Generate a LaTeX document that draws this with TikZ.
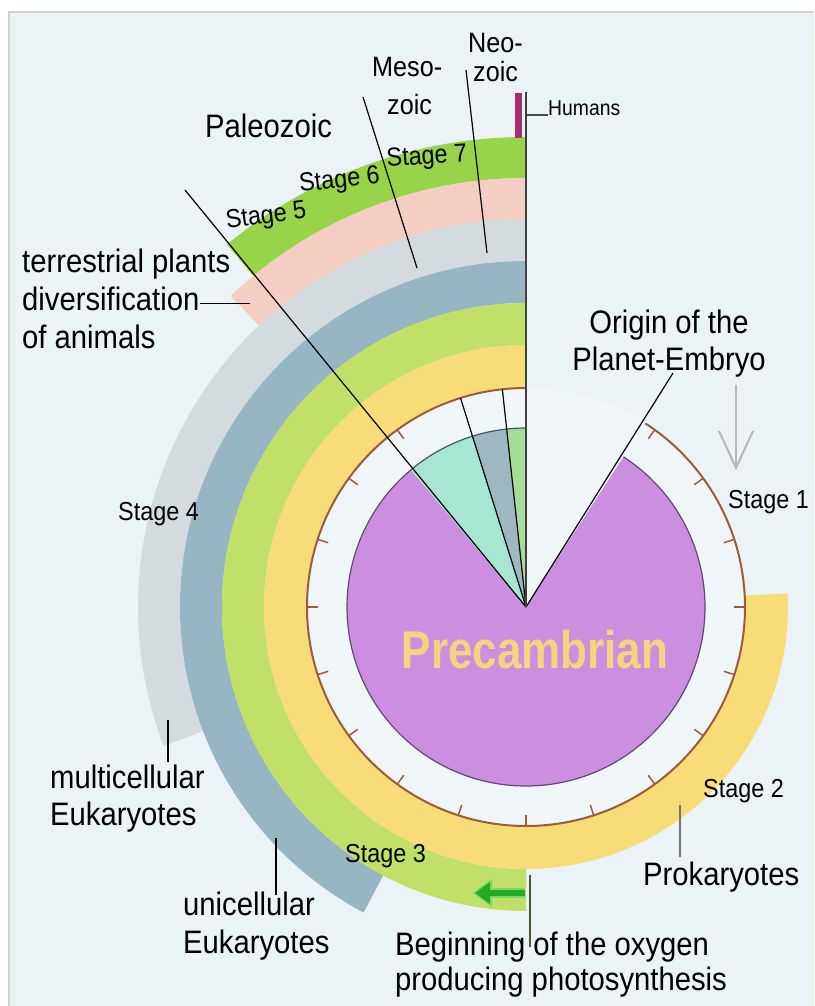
\documentclass[tikz,border=0pt]{standalone}
\usepackage{fontspec}
\setmainfont{Liberation Sans}[FakeStretch=0.9]
\newfontfamily\precfont{Liberation Sans}[FakeStretch=0.83]
\usetikzlibrary{arrows.meta}
\definecolor{bg}{HTML}{ECF3F7}
\definecolor{whitering}{HTML}{F0F6F8}
\definecolor{framegray}{HTML}{D2D2D2}
\definecolor{purp}{HTML}{CC8FE0}
\definecolor{purpedge}{HTML}{5E4A70}
\definecolor{mint}{HTML}{A6E6D2}
\definecolor{slatew}{HTML}{9EB8C2}
\definecolor{greenw}{HTML}{A6DC9A}
\definecolor{wedgeedge}{HTML}{3E5A5E}
\definecolor{yel}{HTML}{F8DC78}
\definecolor{lgreen}{HTML}{C0E068}
\definecolor{bgray}{HTML}{96B6C3}
\definecolor{lgray}{HTML}{D3DBDE}
\definecolor{pinkr}{HTML}{F4CDC3}
\definecolor{bgreen}{HTML}{98D449}
\definecolor{brownr}{HTML}{9C5B3B}
\definecolor{hum}{HTML}{A3306E}
\definecolor{prec}{HTML}{F6D37E}
\definecolor{arrowgray}{HTML}{B4B8BC}
\definecolor{oxyline}{HTML}{4A5A2A}
\definecolor{arrowgreen}{HTML}{22AA22}
\definecolor{arrowglow}{HTML}{7CD86C}
\newcommand\ringseg[5]{\fill[#1] (#2:#5) arc[start angle=#2, end angle=#3, radius=#5] -- (#3:#4) arc[start angle=#3, end angle=#2, radius=#4] -- cycle;}
\tikzset{
  lbl/.style={anchor=base west, inner sep=0pt, font=\fontsize{32.5}{38}\selectfont},
  stg/.style={anchor=base west, inner sep=0pt, font=\fontsize{26}{30}\selectfont},
  era/.style={anchor=base west, inner sep=0pt, font=\fontsize{28}{30}\selectfont},
  leader/.style={line width=1.2pt, black},
}
\begin{document}
\begin{tikzpicture}[x=1pt,y=1pt]
\useasboundingbox (0,0) rectangle (814,-1006);
\fill[white] (0,0) rectangle (814,-1006);
\fill[bg] (9,-12) rectangle (814,-1006);
\draw[framegray, line width=2pt] (9,-1006) -- (9,-12) -- (814,-12);
\coordinate (C) at (526,-607);
\begin{scope}[shift={(526,-607)}]
  % outer rings
  \ringseg{bgreen}{90}{129.5}{429}{470}
  \ringseg{pinkr}{90}{133.5}{388}{429}
  \ringseg{lgray}{90}{201}{346}{388}
  \ringseg{bgray}{90}{242}{304}{346}
  \ringseg{lgreen}{90}{270}{262}{304}
  \ringseg{yel}{90}{363}{219}{262}
  % inner light ring
  \fill[whitering] (0,0) circle[radius=219];
  % purple pie
  \fill[purp] (0,0) -- (130:179) arc[start angle=130, end angle=417, radius=179] -- cycle;
  \draw[purpedge, line width=1.2pt] (130:179) arc[start angle=130, end angle=417, radius=179];
  % small wedges
  \fill[mint] (0,0) -- (107.4:179) arc[start angle=107.4, end angle=130, radius=179] -- cycle;
  \fill[slatew] (0,0) -- (96.2:179) arc[start angle=96.2, end angle=107.4, radius=179] -- cycle;
  \fill[greenw] (0,0) -- (90:179) arc[start angle=90, end angle=96.2, radius=179] -- cycle;
  \draw[wedgeedge, line width=1.2pt] (90:179) arc[start angle=90, end angle=130, radius=179];
  % brown time circle with ticks
  \draw[brownr, line width=2pt] (90:219) arc[start angle=90, end angle=417, radius=219];
  \foreach \a in {0,18,36,54,126,144,162,180,198,216,234,252,270,288,306,324,342}
    \draw[brownr, line width=1.5pt] (\a:219) -- (\a:208);
  \coordinate (w1) at (96.2:219);
  \coordinate (w2) at (107.4:219);
\end{scope}
% radial lines
\coordinate (embryo) at (673,-373);
\coordinate (terr) at (185,-190);
\coordinate (top) at (526,-92);
\draw[leader] (C) -- (w1);
\draw[leader] (C) -- (w2);
\draw[leader] (C) -- (embryo);
\draw[leader] (C) -- (terr);
\draw[line width=2pt, black!75] (C) -- (top);
% humans
\fill[hum] (515,-93) rectangle (522,-138);
\node[anchor=base west, inner sep=0pt, font=\fontsize{21.5}{24}\selectfont] (humans) at (548,-116) {Humans};
\draw[line width=1.2pt, black!70] (526,-115) -- (humans.west |- 0,-115);
% era labels
\node[era] (neo1) at (468,-53) {Neo-};
\node[era] (neo2) at (473,-82) {zoic};
\node[era] (meso1) at (372,-77) {Meso-};
\node[era] (meso2) at (387,-115) {zoic};
\node[lbl] (paleo) at (205,-138) {Paleozoic};
\coordinate (mesoA) at (363,-97);
\coordinate (mesoB) at (417,-268);
\coordinate (neoA) at (466,-70);
\coordinate (neoB) at (487,-253);
\draw[leader] (mesoA) -- (mesoB);
\draw[leader] (neoA) -- (neoB);
% stage labels
\node[stg, rotate=4] (s7) at (387,-167) {Stage 7};
\node[stg, rotate=6] (s6) at (300,-192) {Stage 6};
\node[stg, rotate=8] (s5) at (227,-229) {Stage 5};
\node[stg] (s4) at (118,-520) {Stage 4};
\node[stg] (s3) at (345,-862) {Stage 3};
\node[stg] (s2) at (703,-797) {Stage 2};
\node[stg] (s1) at (728,-508) {Stage 1};
% left labels
\node[lbl] (terr1) at (22,-272) {terrestrial plants};
\node[lbl] (terr2) at (22,-310) {diversification};
\node[lbl] (terr3) at (22,-348) {of animals};
\coordinate (divend) at (250,-303);
\draw[line width=1pt] (terr2.east |- divend) -- (divend);
\node[lbl] (multi1) at (50,-788) {multicellular};
\node[lbl] (multi2) at (50,-825) {Eukaryotes};
\coordinate (multiA) at (168,-720);
\coordinate (multiB) at (168,-762);
\draw[line width=1.5pt] (multiA) -- (multiB);
\node[lbl] (uni1) at (183,-915) {unicellular};
\node[lbl] (uni2) at (183,-953) {Eukaryotes};
\coordinate (uniA) at (276,-838);
\coordinate (uniB) at (276,-895);
\draw[line width=1.5pt] (uniA) -- (uniB);
% right labels
\node[anchor=base, inner sep=0pt, font=\fontsize{32.5}{38}\selectfont] (orig1) at (669,-333) {Origin of the};
\node[anchor=base, inner sep=0pt, font=\fontsize{32.5}{38}\selectfont] (orig2) at (669,-370) {Planet-Embryo};
\node[lbl] (prok) at (643,-885) {Prokaryotes};
\coordinate (prokA) at (680,-805);
\coordinate (prokB) at (680,-857);
\draw[line width=1.5pt, black!55] (prokA) -- (prokB);
% gray arrow
\coordinate (gaTop) at (736,-385);
\coordinate (gaTip) at (736,-468);
\draw[arrowgray, line width=2pt] (gaTop) -- (gaTip);
\draw[arrowgray, line width=2pt, line join=miter] (719,-431) -- (gaTip) -- (753,-431);
% oxygen
\node[lbl] (oxy1) at (395,-955) {Beginning of the oxygen};
\node[lbl] (oxy2) at (395,-990) {producing photosynthesis};
\coordinate (oxyA) at (530,-875);
\coordinate (oxyB) at (530,-947);
\draw[oxyline, line width=1.5pt] (oxyA) -- (oxyB);
\coordinate (gaS) at (525,-893);
\coordinate (gaE) at (473,-893);
\draw[arrowglow, line width=10pt, -{Triangle[length=19pt,width=27pt]}] (gaS) -- (gaE);
\draw[arrowgreen, line width=6pt, -{Triangle[length=15pt,width=21pt]}] (gaS) -- ([xshift=2pt]gaE);
% Precambrian
\node[anchor=base, inner sep=0pt, text=prec, font=\precfont\bfseries\fontsize{53}{56}\selectfont] (prec) at (535,-668) {Precambrian};
\end{tikzpicture}
\end{document}
